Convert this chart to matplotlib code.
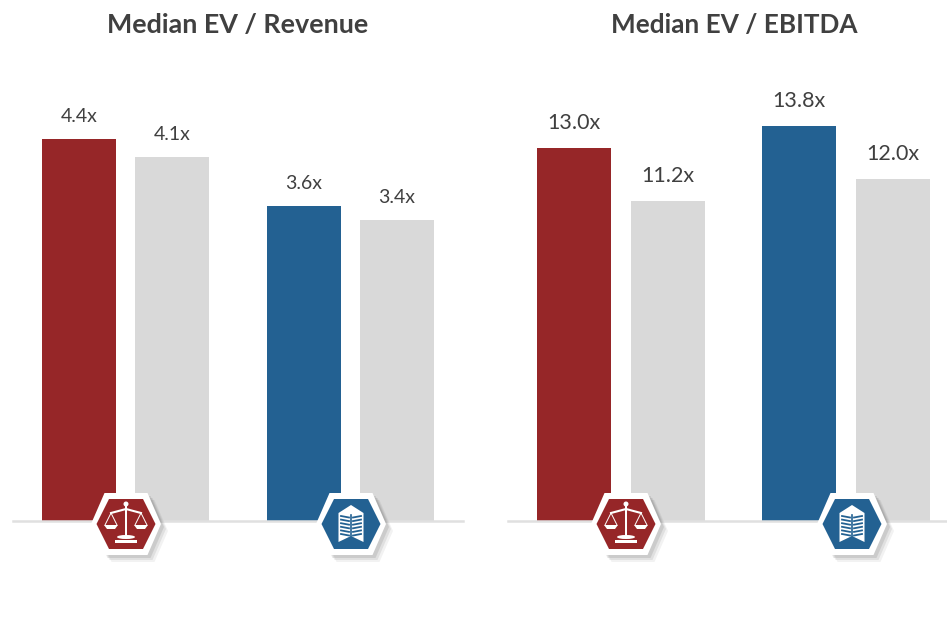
import matplotlib
matplotlib.use('Agg')
from matplotlib import pyplot as plt
from matplotlib.patches import Polygon, Rectangle, Ellipse

plt.rcParams['font.family'] = ['Lato', 'DejaVu Sans']

W, H = 947, 639

rev_values = [4.34, 4.14, 3.58, 3.42]
rev_labels = ['4.4x', '4.1x', '3.6x', '3.4x']
ebitda_values = [13.04, 11.19, 13.81, 11.96]
ebitda_labels = ['13.0x', '11.2x', '13.8x', '12.0x']
rev_title = 'Median EV / Revenue'
ebitda_title = 'Median EV / EBITDA'

RED = '#962628'
BLUE = '#236192'
GREY = '#d9d9d9'
TEXT = '#404040'
bar_colors = [RED, GREY, BLUE, GREY]

fig = plt.figure(figsize=(W / 100, H / 100), dpi=100, facecolor='white')


def panel(x0, x1, centers, values, labels, px_per_unit, title, title_x, title_size, label_size, pad):
    # axes x is in pixels so bars land where they do in the picture
    base = 521
    top = 60
    ax = fig.add_axes([x0 / W, (H - base) / H, (x1 - x0) / W, (base - top) / H])
    ax.set_xlim(x0, x1)
    ax.set_ylim(0, (base - top) / px_per_unit)
    ax.bar(centers, values, width=74, color=bar_colors, linewidth=0)
    for c, v, lab in zip(centers, values, labels):
        ax.annotate(lab, (c, v), xytext=(0, pad), textcoords='offset pixels',
                    ha='center', va='bottom', fontsize=label_size, color=TEXT)
    for s in ['top', 'left', 'right']:
        ax.spines[s].set_visible(False)
    ax.spines['bottom'].set_color('#e0e0e0')
    ax.spines['bottom'].set_linewidth(1.8)
    ax.set_xticks([])
    ax.set_yticks([])
    ax.patch.set_alpha(0)
    fig.text(title_x / W, 1 - 25 / H, title, ha='center', va='center',
             fontsize=title_size, fontweight='bold', color=TEXT)


panel(13, 463, [79, 172, 304, 397], rev_values, rev_labels, 88, rev_title, 238, 19.4, 14, 14)
panel(508, 947, [574, 668, 799, 893], ebitda_values, ebitda_labels, 28.6, ebitda_title, 734, 18.8, 15.5, 15)

# overlay in pixel coords for the badges
ov = fig.add_axes([0, 0, 1, 1], zorder=5)
ov.set_xlim(0, W)
ov.set_ylim(H, 0)
ov.axis('off')


def hexagon(cx, cy, half_w, half_h, inset):
    return [(cx - half_w, cy), (cx - half_w + inset, cy - half_h),
            (cx + half_w - inset, cy - half_h), (cx + half_w, cy),
            (cx + half_w - inset, cy + half_h), (cx - half_w + inset, cy + half_h)]


def badge(cx, cy, color):
    for off, a in [(7, 0.05), (5, 0.07), (3, 0.09)]:
        ov.add_patch(Polygon(hexagon(cx + off, cy + off, 35, 31, 13.5), color='black', alpha=a, lw=0))
    ov.add_patch(Polygon(hexagon(cx, cy, 35, 31, 13.5), color='white', lw=0))
    ov.add_patch(Polygon(hexagon(cx, cy, 29.5, 25, 12.5), color=color, lw=0))


def scales(cx, cy):
    ov.add_patch(Rectangle((cx - 1.2, cy - 19), 2.4, 31, color='white', lw=0))
    ov.add_patch(Ellipse((cx, cy - 20), 5, 5, color='white', lw=0))
    ov.plot([cx - 15, cx, cx + 15], [cy - 11, cy - 15, cy - 11], color='white', lw=1.5)
    for side in [-1, 1]:
        px = cx + side * 15
        ov.plot([px - 6, px, px + 6], [cy + 1, cy - 11, cy + 1], color='white', lw=0.7)
        ov.add_patch(Polygon([(px - 7, cy + 1), (px + 7, cy + 1), (px + 4, cy + 5), (px - 4, cy + 5)],
                             color='white', lw=0))
    ov.add_patch(Ellipse((cx, cy + 13), 18, 4, color='white', lw=0))
    ov.add_patch(Rectangle((cx - 11, cy + 16), 22, 2.5, color='white', lw=0))


def building(cx, cy):
    ov.add_patch(Polygon([(cx - 12.5, cy - 11), (cx, cy - 19), (cx + 12.5, cy - 11),
                          (cx + 12.5, cy + 18), (cx, cy + 12), (cx - 12.5, cy + 18)],
                         color='white', lw=0))
    ov.plot([cx, cx], [cy - 9, cy + 12], color=BLUE, lw=1.2)
    for i in range(6):
        y = cy - 8 + i * 3.6
        ov.plot([cx - 10, cx - 2], [y, y + 1.5], color=BLUE, lw=1.3)
        ov.plot([cx + 2, cx + 10], [y + 1.5, y], color=BLUE, lw=1.3)


badge(126, 524, RED)
scales(126, 524)
badge(351, 524, BLUE)
building(351, 524)
badge(626, 524, RED)
scales(626, 524)
badge(852, 524, BLUE)
building(852, 524)

plt.savefig('out.png', dpi=100)
